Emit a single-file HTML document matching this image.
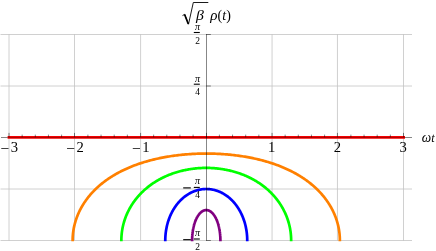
<!DOCTYPE html>
<html><head><meta charset="utf-8">
<style>
html,body{margin:0;padding:0;background:#fff;}
body{width:436px;height:251px;overflow:hidden;}
svg{display:block;will-change:transform;}
text{font-family:"Liberation Serif",serif;font-size:14.6px;fill:#000;}
.sm{font-size:9.5px;}
.it{font-style:italic;}
.grid line{stroke:#c4c4c4;stroke-width:0.8;}
.axes line{stroke:#000;stroke-opacity:0.68;stroke-width:0.7;}
.fb{stroke:#000;stroke-width:1.1;}
.mn{stroke:#000;stroke-width:1.15;}
</style></head><body>
<svg width="436" height="251" viewBox="0 0 436 251">
<rect width="436" height="251" fill="#fff"/>
<defs><clipPath id="cp"><rect x="0" y="30" width="413" height="211.3"/></clipPath></defs>
<g class="grid">
<line x1="9.00" y1="34" x2="9.00" y2="241" />
<line x1="74.50" y1="34" x2="74.50" y2="241" />
<line x1="140.60" y1="34" x2="140.60" y2="241" />
<line x1="272.05" y1="34" x2="272.05" y2="241" />
<line x1="337.45" y1="34" x2="337.45" y2="241" />
<line x1="403.50" y1="34" x2="403.50" y2="241" />
<line x1="0.5" y1="34.50" x2="412" y2="34.50" />
<line x1="0.5" y1="86.00" x2="412" y2="86.00" />
<line x1="0.5" y1="189.00" x2="412" y2="189.00" />
<line x1="0.5" y1="240.50" x2="412" y2="240.50" />
</g>
<g clip-path="url(#cp)">
<line x1="7.6" y1="137.35" x2="405" y2="137.35" stroke="#f40000" stroke-width="2.7"/>
<path d="M72.63 244.50 L72.63 240.50 L72.64 239.52 L72.66 238.54 L72.70 237.56 L72.75 236.59 L72.82 235.61 L72.90 234.63 L72.99 233.66 L73.10 232.68 L73.23 231.71 L73.37 230.74 L73.52 229.76 L73.69 228.80 L73.87 227.83 L74.07 226.86 L74.28 225.90 L74.51 224.94 L74.75 223.98 L75.00 223.02 L75.27 222.07 L75.55 221.12 L75.85 220.17 L76.17 219.22 L76.49 218.28 L76.83 217.34 L77.19 216.41 L77.56 215.47 L77.94 214.54 L78.34 213.62 L78.75 212.70 L79.17 211.78 L79.61 210.87 L80.07 209.96 L80.53 209.06 L81.01 208.16 L81.51 207.27 L82.02 206.38 L82.54 205.49 L83.08 204.61 L83.62 203.74 L84.19 202.87 L84.76 202.00 L85.35 201.15 L85.95 200.29 L86.57 199.45 L87.20 198.61 L87.84 197.77 L88.49 196.94 L89.16 196.12 L89.84 195.30 L90.54 194.49 L91.24 193.69 L91.96 192.89 L92.69 192.10 L93.43 191.32 L94.19 190.54 L94.96 189.77 L95.74 189.01 L96.53 188.25 L97.34 187.50 L98.15 186.76 L98.98 186.03 L99.82 185.30 L100.67 184.58 L101.54 183.87 L102.41 183.16 L103.30 182.47 L104.20 181.78 L105.10 181.10 L106.02 180.42 L106.95 179.76 L107.90 179.10 L108.85 178.45 L109.81 177.81 L110.79 177.17 L111.77 176.55 L112.76 175.93 L113.77 175.32 L114.78 174.72 L115.81 174.13 L116.84 173.54 L117.89 172.97 L118.94 172.40 L120.01 171.84 L121.08 171.29 L122.16 170.75 L123.26 170.22 L124.36 169.69 L125.47 169.17 L126.59 168.67 L127.71 168.17 L128.85 167.67 L129.99 167.19 L131.15 166.72 L132.31 166.25 L133.48 165.80 L134.66 165.35 L135.84 164.91 L137.03 164.48 L138.23 164.05 L139.44 163.64 L140.66 163.23 L141.88 162.84 L143.11 162.45 L144.35 162.07 L145.59 161.70 L146.84 161.34 L148.10 160.98 L149.36 160.64 L150.63 160.30 L151.90 159.97 L153.19 159.65 L154.47 159.34 L155.76 159.04 L157.06 158.74 L158.37 158.45 L159.68 158.18 L160.99 157.91 L162.31 157.64 L163.63 157.39 L164.96 157.15 L166.29 156.91 L167.63 156.68 L168.97 156.46 L170.32 156.25 L171.67 156.04 L173.02 155.85 L174.38 155.66 L175.74 155.48 L177.10 155.31 L178.47 155.15 L179.84 154.99 L181.21 154.85 L182.59 154.71 L183.97 154.58 L185.35 154.45 L186.73 154.34 L188.12 154.23 L189.50 154.13 L190.89 154.04 L192.28 153.96 L193.68 153.88 L195.07 153.82 L196.46 153.76 L197.86 153.71 L199.26 153.66 L200.65 153.63 L202.05 153.60 L203.45 153.58 L204.85 153.57 L206.25 153.56 L207.65 153.57 L209.05 153.58 L210.45 153.60 L211.85 153.63 L213.24 153.66 L214.64 153.71 L216.04 153.76 L217.43 153.82 L218.82 153.88 L220.22 153.96 L221.61 154.04 L223.00 154.13 L224.38 154.23 L225.77 154.34 L227.15 154.45 L228.53 154.58 L229.91 154.71 L231.29 154.85 L232.66 154.99 L234.03 155.15 L235.40 155.31 L236.76 155.48 L238.12 155.66 L239.48 155.85 L240.83 156.04 L242.18 156.25 L243.53 156.46 L244.87 156.68 L246.21 156.91 L247.54 157.15 L248.87 157.39 L250.19 157.64 L251.51 157.91 L252.82 158.18 L254.13 158.45 L255.44 158.74 L256.74 159.04 L258.03 159.34 L259.31 159.65 L260.60 159.97 L261.87 160.30 L263.14 160.64 L264.40 160.98 L265.66 161.34 L266.91 161.70 L268.15 162.07 L269.39 162.45 L270.62 162.84 L271.84 163.23 L273.06 163.64 L274.27 164.05 L275.47 164.48 L276.66 164.91 L277.84 165.35 L279.02 165.80 L280.19 166.25 L281.35 166.72 L282.51 167.19 L283.65 167.67 L284.79 168.17 L285.91 168.67 L287.03 169.17 L288.14 169.69 L289.24 170.22 L290.34 170.75 L291.42 171.29 L292.49 171.84 L293.56 172.40 L294.61 172.97 L295.66 173.54 L296.69 174.13 L297.72 174.72 L298.73 175.32 L299.74 175.93 L300.73 176.55 L301.71 177.17 L302.69 177.81 L303.65 178.45 L304.60 179.10 L305.55 179.76 L306.48 180.42 L307.40 181.10 L308.30 181.78 L309.20 182.47 L310.09 183.16 L310.96 183.87 L311.83 184.58 L312.68 185.30 L313.52 186.03 L314.35 186.76 L315.16 187.50 L315.97 188.25 L316.76 189.01 L317.54 189.77 L318.31 190.54 L319.07 191.32 L319.81 192.10 L320.54 192.89 L321.26 193.69 L321.96 194.49 L322.66 195.30 L323.34 196.12 L324.01 196.94 L324.66 197.77 L325.30 198.61 L325.93 199.45 L326.55 200.29 L327.15 201.15 L327.74 202.00 L328.31 202.87 L328.88 203.74 L329.42 204.61 L329.96 205.49 L330.48 206.38 L330.99 207.27 L331.49 208.16 L331.97 209.06 L332.43 209.96 L332.89 210.87 L333.33 211.78 L333.75 212.70 L334.16 213.62 L334.56 214.54 L334.94 215.47 L335.31 216.41 L335.67 217.34 L336.01 218.28 L336.33 219.22 L336.65 220.17 L336.95 221.12 L337.23 222.07 L337.50 223.02 L337.75 223.98 L337.99 224.94 L338.22 225.90 L338.43 226.86 L338.63 227.83 L338.81 228.80 L338.98 229.76 L339.13 230.74 L339.27 231.71 L339.40 232.68 L339.51 233.66 L339.60 234.63 L339.68 235.61 L339.75 236.59 L339.80 237.56 L339.84 238.54 L339.86 239.52 L339.87 240.50 L339.87 244.50" fill="none" stroke="#ff8000" stroke-width="2.7" stroke-linejoin="round"/>
<path d="M121.35 244.50 L121.35 240.50 L121.36 239.72 L121.37 238.94 L121.39 238.16 L121.43 237.38 L121.47 236.60 L121.52 235.82 L121.58 235.04 L121.65 234.27 L121.73 233.49 L121.82 232.71 L121.91 231.94 L122.02 231.16 L122.14 230.39 L122.26 229.62 L122.40 228.85 L122.54 228.08 L122.69 227.31 L122.86 226.55 L123.03 225.79 L123.21 225.02 L123.40 224.26 L123.59 223.51 L123.80 222.75 L124.02 222.00 L124.24 221.25 L124.48 220.50 L124.72 219.75 L124.98 219.01 L125.24 218.26 L125.51 217.53 L125.79 216.79 L126.07 216.06 L126.37 215.33 L126.68 214.60 L126.99 213.88 L127.31 213.16 L127.65 212.44 L127.99 211.73 L128.33 211.02 L128.69 210.31 L129.06 209.61 L129.43 208.91 L129.81 208.21 L130.21 207.52 L130.61 206.84 L131.01 206.15 L131.43 205.47 L131.85 204.80 L132.29 204.13 L132.73 203.46 L133.17 202.80 L133.63 202.15 L134.10 201.49 L134.57 200.85 L135.05 200.20 L135.54 199.57 L136.03 198.93 L136.54 198.31 L137.05 197.68 L137.57 197.06 L138.09 196.45 L138.63 195.84 L139.17 195.24 L139.72 194.65 L140.27 194.05 L140.83 193.47 L141.41 192.89 L141.98 192.31 L142.57 191.74 L143.16 191.18 L143.76 190.62 L144.36 190.07 L144.97 189.53 L145.59 188.99 L146.22 188.45 L146.85 187.92 L147.49 187.40 L148.13 186.89 L148.78 186.38 L149.44 185.87 L150.11 185.38 L150.78 184.89 L151.45 184.40 L152.13 183.92 L152.82 183.45 L153.52 182.99 L154.22 182.53 L154.92 182.08 L155.63 181.63 L156.35 181.19 L157.07 180.76 L157.80 180.34 L158.53 179.92 L159.27 179.51 L160.01 179.10 L160.76 178.70 L161.51 178.31 L162.27 177.93 L163.03 177.55 L163.80 177.18 L164.57 176.82 L165.35 176.46 L166.13 176.11 L166.92 175.77 L167.71 175.43 L168.50 175.10 L169.30 174.78 L170.10 174.47 L170.91 174.16 L171.72 173.86 L172.53 173.57 L173.35 173.28 L174.17 173.01 L175.00 172.74 L175.83 172.47 L176.66 172.22 L177.49 171.97 L178.33 171.72 L179.17 171.49 L180.02 171.26 L180.86 171.04 L181.71 170.83 L182.56 170.63 L183.42 170.43 L184.28 170.24 L185.14 170.06 L186.00 169.88 L186.86 169.71 L187.73 169.55 L188.60 169.40 L189.47 169.25 L190.34 169.11 L191.22 168.98 L192.09 168.86 L192.97 168.74 L193.85 168.64 L194.73 168.54 L195.61 168.44 L196.49 168.36 L197.38 168.28 L198.26 168.21 L199.15 168.14 L200.03 168.09 L200.92 168.04 L201.81 168.00 L202.69 167.96 L203.58 167.94 L204.47 167.92 L205.36 167.91 L206.25 167.90 L207.14 167.91 L208.03 167.92 L208.92 167.94 L209.81 167.96 L210.69 168.00 L211.58 168.04 L212.47 168.09 L213.35 168.14 L214.24 168.21 L215.12 168.28 L216.01 168.36 L216.89 168.44 L217.77 168.54 L218.65 168.64 L219.53 168.74 L220.41 168.86 L221.28 168.98 L222.16 169.11 L223.03 169.25 L223.90 169.40 L224.77 169.55 L225.64 169.71 L226.50 169.88 L227.36 170.06 L228.22 170.24 L229.08 170.43 L229.94 170.63 L230.79 170.83 L231.64 171.04 L232.48 171.26 L233.33 171.49 L234.17 171.72 L235.01 171.97 L235.84 172.22 L236.67 172.47 L237.50 172.74 L238.33 173.01 L239.15 173.28 L239.97 173.57 L240.78 173.86 L241.59 174.16 L242.40 174.47 L243.20 174.78 L244.00 175.10 L244.79 175.43 L245.58 175.77 L246.37 176.11 L247.15 176.46 L247.93 176.82 L248.70 177.18 L249.47 177.55 L250.23 177.93 L250.99 178.31 L251.74 178.70 L252.49 179.10 L253.23 179.51 L253.97 179.92 L254.70 180.34 L255.43 180.76 L256.15 181.19 L256.87 181.63 L257.58 182.08 L258.28 182.53 L258.98 182.99 L259.68 183.45 L260.37 183.92 L261.05 184.40 L261.72 184.89 L262.39 185.38 L263.06 185.87 L263.72 186.38 L264.37 186.89 L265.01 187.40 L265.65 187.92 L266.28 188.45 L266.91 188.99 L267.53 189.53 L268.14 190.07 L268.74 190.62 L269.34 191.18 L269.93 191.74 L270.52 192.31 L271.09 192.89 L271.67 193.47 L272.23 194.05 L272.78 194.65 L273.33 195.24 L273.87 195.84 L274.41 196.45 L274.93 197.06 L275.45 197.68 L275.96 198.31 L276.47 198.93 L276.96 199.57 L277.45 200.20 L277.93 200.85 L278.40 201.49 L278.87 202.15 L279.33 202.80 L279.77 203.46 L280.21 204.13 L280.65 204.80 L281.07 205.47 L281.49 206.15 L281.89 206.84 L282.29 207.52 L282.69 208.21 L283.07 208.91 L283.44 209.61 L283.81 210.31 L284.17 211.02 L284.51 211.73 L284.85 212.44 L285.19 213.16 L285.51 213.88 L285.82 214.60 L286.13 215.33 L286.43 216.06 L286.71 216.79 L286.99 217.53 L287.26 218.26 L287.52 219.01 L287.78 219.75 L288.02 220.50 L288.26 221.25 L288.48 222.00 L288.70 222.75 L288.91 223.51 L289.10 224.26 L289.29 225.02 L289.47 225.79 L289.64 226.55 L289.81 227.31 L289.96 228.08 L290.10 228.85 L290.24 229.62 L290.36 230.39 L290.48 231.16 L290.59 231.94 L290.68 232.71 L290.77 233.49 L290.85 234.27 L290.92 235.04 L290.98 235.82 L291.03 236.60 L291.07 237.38 L291.11 238.16 L291.13 238.94 L291.14 239.72 L291.15 240.50 L291.15 244.50" fill="none" stroke="#00ff00" stroke-width="2.7" stroke-linejoin="round"/>
<path d="M165.27 244.50 L165.27 240.50 L165.28 239.96 L165.28 239.42 L165.29 238.87 L165.31 238.33 L165.33 237.79 L165.35 237.25 L165.38 236.71 L165.42 236.17 L165.45 235.63 L165.50 235.09 L165.54 234.55 L165.60 234.01 L165.65 233.48 L165.71 232.94 L165.78 232.40 L165.85 231.87 L165.92 231.33 L166.00 230.80 L166.08 230.27 L166.17 229.74 L166.26 229.21 L166.36 228.68 L166.46 228.16 L166.56 227.63 L166.67 227.11 L166.78 226.58 L166.90 226.06 L167.02 225.54 L167.15 225.03 L167.28 224.51 L167.41 224.00 L167.55 223.49 L167.70 222.97 L167.84 222.47 L167.99 221.96 L168.15 221.46 L168.31 220.95 L168.47 220.45 L168.64 219.96 L168.82 219.46 L168.99 218.97 L169.17 218.48 L169.36 217.99 L169.55 217.51 L169.74 217.02 L169.94 216.54 L170.14 216.06 L170.34 215.59 L170.55 215.12 L170.76 214.65 L170.98 214.18 L171.20 213.72 L171.42 213.26 L171.65 212.80 L171.88 212.35 L172.12 211.90 L172.36 211.45 L172.60 211.00 L172.85 210.56 L173.10 210.12 L173.35 209.69 L173.61 209.26 L173.87 208.83 L174.14 208.41 L174.40 207.99 L174.68 207.57 L174.95 207.16 L175.23 206.75 L175.51 206.34 L175.80 205.94 L176.09 205.54 L176.38 205.15 L176.67 204.76 L176.97 204.37 L177.27 203.99 L177.58 203.61 L177.89 203.23 L178.20 202.86 L178.51 202.50 L178.83 202.14 L179.15 201.78 L179.47 201.43 L179.80 201.08 L180.13 200.73 L180.46 200.39 L180.80 200.06 L181.13 199.73 L181.48 199.40 L181.82 199.08 L182.16 198.76 L182.51 198.45 L182.86 198.14 L183.22 197.83 L183.57 197.53 L183.93 197.24 L184.29 196.95 L184.66 196.67 L185.02 196.39 L185.39 196.11 L185.76 195.84 L186.13 195.57 L186.51 195.31 L186.89 195.06 L187.27 194.81 L187.65 194.56 L188.03 194.32 L188.42 194.09 L188.80 193.86 L189.19 193.63 L189.58 193.41 L189.98 193.20 L190.37 192.99 L190.77 192.78 L191.17 192.58 L191.57 192.39 L191.97 192.20 L192.37 192.01 L192.77 191.84 L193.18 191.66 L193.59 191.50 L194.00 191.33 L194.41 191.18 L194.82 191.02 L195.23 190.88 L195.64 190.74 L196.06 190.60 L196.48 190.47 L196.89 190.35 L197.31 190.23 L197.73 190.11 L198.15 190.01 L198.57 189.90 L198.99 189.81 L199.42 189.71 L199.84 189.63 L200.26 189.55 L200.69 189.47 L201.11 189.40 L201.54 189.34 L201.97 189.28 L202.39 189.23 L202.82 189.18 L203.25 189.14 L203.68 189.10 L204.11 189.07 L204.53 189.04 L204.96 189.03 L205.39 189.01 L205.82 189.00 L206.25 189.00 L206.68 189.00 L207.11 189.01 L207.54 189.03 L207.97 189.04 L208.39 189.07 L208.82 189.10 L209.25 189.14 L209.68 189.18 L210.11 189.23 L210.53 189.28 L210.96 189.34 L211.39 189.40 L211.81 189.47 L212.24 189.55 L212.66 189.63 L213.08 189.71 L213.51 189.81 L213.93 189.90 L214.35 190.01 L214.77 190.11 L215.19 190.23 L215.61 190.35 L216.02 190.47 L216.44 190.60 L216.86 190.74 L217.27 190.88 L217.68 191.02 L218.09 191.18 L218.50 191.33 L218.91 191.50 L219.32 191.66 L219.73 191.84 L220.13 192.01 L220.53 192.20 L220.93 192.39 L221.33 192.58 L221.73 192.78 L222.13 192.99 L222.52 193.20 L222.92 193.41 L223.31 193.63 L223.70 193.86 L224.08 194.09 L224.47 194.32 L224.85 194.56 L225.23 194.81 L225.61 195.06 L225.99 195.31 L226.37 195.57 L226.74 195.84 L227.11 196.11 L227.48 196.39 L227.84 196.67 L228.21 196.95 L228.57 197.24 L228.93 197.53 L229.28 197.83 L229.64 198.14 L229.99 198.45 L230.34 198.76 L230.68 199.08 L231.02 199.40 L231.37 199.73 L231.70 200.06 L232.04 200.39 L232.37 200.73 L232.70 201.08 L233.03 201.43 L233.35 201.78 L233.67 202.14 L233.99 202.50 L234.30 202.86 L234.61 203.23 L234.92 203.61 L235.23 203.99 L235.53 204.37 L235.83 204.76 L236.12 205.15 L236.41 205.54 L236.70 205.94 L236.99 206.34 L237.27 206.75 L237.55 207.16 L237.82 207.57 L238.10 207.99 L238.36 208.41 L238.63 208.83 L238.89 209.26 L239.15 209.69 L239.40 210.12 L239.65 210.56 L239.90 211.00 L240.14 211.45 L240.38 211.90 L240.62 212.35 L240.85 212.80 L241.08 213.26 L241.30 213.72 L241.52 214.18 L241.74 214.65 L241.95 215.12 L242.16 215.59 L242.36 216.06 L242.56 216.54 L242.76 217.02 L242.95 217.51 L243.14 217.99 L243.33 218.48 L243.51 218.97 L243.68 219.46 L243.86 219.96 L244.03 220.45 L244.19 220.95 L244.35 221.46 L244.51 221.96 L244.66 222.47 L244.80 222.97 L244.95 223.49 L245.09 224.00 L245.22 224.51 L245.35 225.03 L245.48 225.54 L245.60 226.06 L245.72 226.58 L245.83 227.11 L245.94 227.63 L246.04 228.16 L246.14 228.68 L246.24 229.21 L246.33 229.74 L246.42 230.27 L246.50 230.80 L246.58 231.33 L246.65 231.87 L246.72 232.40 L246.79 232.94 L246.85 233.48 L246.90 234.01 L246.96 234.55 L247.00 235.09 L247.05 235.63 L247.08 236.17 L247.12 236.71 L247.15 237.25 L247.17 237.79 L247.19 238.33 L247.21 238.87 L247.22 239.42 L247.22 239.96 L247.23 240.50 L247.23 244.50" fill="none" stroke="#0000ff" stroke-width="2.7" stroke-linejoin="round"/>
<path d="M192.10 244.50 L192.10 240.50 L192.10 240.18 L192.10 239.86 L192.11 239.54 L192.11 239.23 L192.12 238.91 L192.13 238.59 L192.14 238.27 L192.15 237.95 L192.16 237.64 L192.18 237.32 L192.19 237.00 L192.21 236.69 L192.23 236.37 L192.25 236.06 L192.27 235.74 L192.30 235.43 L192.32 235.11 L192.35 234.80 L192.38 234.49 L192.41 234.18 L192.44 233.86 L192.47 233.55 L192.51 233.24 L192.54 232.94 L192.58 232.63 L192.62 232.32 L192.66 232.01 L192.70 231.71 L192.75 231.40 L192.79 231.10 L192.84 230.80 L192.89 230.50 L192.94 230.20 L192.99 229.90 L193.04 229.60 L193.09 229.30 L193.15 229.01 L193.21 228.71 L193.26 228.42 L193.32 228.13 L193.38 227.84 L193.45 227.55 L193.51 227.26 L193.58 226.98 L193.64 226.69 L193.71 226.41 L193.78 226.13 L193.85 225.85 L193.92 225.57 L194.00 225.29 L194.07 225.02 L194.15 224.74 L194.22 224.47 L194.30 224.20 L194.38 223.94 L194.46 223.67 L194.55 223.40 L194.63 223.14 L194.72 222.88 L194.80 222.62 L194.89 222.37 L194.98 222.11 L195.07 221.86 L195.16 221.61 L195.25 221.36 L195.35 221.11 L195.44 220.87 L195.54 220.63 L195.64 220.39 L195.73 220.15 L195.83 219.92 L195.94 219.68 L196.04 219.45 L196.14 219.22 L196.24 219.00 L196.35 218.77 L196.46 218.55 L196.56 218.33 L196.67 218.12 L196.78 217.90 L196.89 217.69 L197.00 217.48 L197.12 217.27 L197.23 217.07 L197.35 216.87 L197.46 216.67 L197.58 216.47 L197.70 216.28 L197.81 216.09 L197.93 215.90 L198.05 215.71 L198.17 215.53 L198.30 215.35 L198.42 215.17 L198.54 215.00 L198.67 214.83 L198.79 214.66 L198.92 214.49 L199.05 214.33 L199.18 214.17 L199.30 214.01 L199.43 213.85 L199.56 213.70 L199.69 213.55 L199.83 213.41 L199.96 213.27 L200.09 213.13 L200.23 212.99 L200.36 212.85 L200.49 212.72 L200.63 212.60 L200.77 212.47 L200.90 212.35 L201.04 212.23 L201.18 212.12 L201.32 212.00 L201.46 211.89 L201.60 211.79 L201.74 211.68 L201.88 211.58 L202.02 211.49 L202.16 211.39 L202.30 211.30 L202.44 211.22 L202.59 211.13 L202.73 211.05 L202.87 210.97 L203.02 210.90 L203.16 210.83 L203.31 210.76 L203.45 210.70 L203.60 210.64 L203.74 210.58 L203.89 210.52 L204.04 210.47 L204.18 210.42 L204.33 210.38 L204.48 210.34 L204.62 210.30 L204.77 210.26 L204.92 210.23 L205.07 210.20 L205.21 210.18 L205.36 210.16 L205.51 210.14 L205.66 210.12 L205.81 210.11 L205.95 210.10 L206.10 210.10 L206.25 210.10 L206.40 210.10 L206.55 210.10 L206.69 210.11 L206.84 210.12 L206.99 210.14 L207.14 210.16 L207.29 210.18 L207.43 210.20 L207.58 210.23 L207.73 210.26 L207.88 210.30 L208.02 210.34 L208.17 210.38 L208.32 210.42 L208.46 210.47 L208.61 210.52 L208.76 210.58 L208.90 210.64 L209.05 210.70 L209.19 210.76 L209.34 210.83 L209.48 210.90 L209.63 210.97 L209.77 211.05 L209.91 211.13 L210.06 211.22 L210.20 211.30 L210.34 211.39 L210.48 211.49 L210.62 211.58 L210.76 211.68 L210.90 211.79 L211.04 211.89 L211.18 212.00 L211.32 212.12 L211.46 212.23 L211.60 212.35 L211.73 212.47 L211.87 212.60 L212.01 212.72 L212.14 212.85 L212.27 212.99 L212.41 213.13 L212.54 213.27 L212.67 213.41 L212.81 213.55 L212.94 213.70 L213.07 213.85 L213.20 214.01 L213.32 214.17 L213.45 214.33 L213.58 214.49 L213.71 214.66 L213.83 214.83 L213.96 215.00 L214.08 215.17 L214.20 215.35 L214.33 215.53 L214.45 215.71 L214.57 215.90 L214.69 216.09 L214.80 216.28 L214.92 216.47 L215.04 216.67 L215.15 216.87 L215.27 217.07 L215.38 217.27 L215.50 217.48 L215.61 217.69 L215.72 217.90 L215.83 218.12 L215.94 218.33 L216.04 218.55 L216.15 218.77 L216.26 219.00 L216.36 219.22 L216.46 219.45 L216.56 219.68 L216.67 219.92 L216.77 220.15 L216.86 220.39 L216.96 220.63 L217.06 220.87 L217.15 221.11 L217.25 221.36 L217.34 221.61 L217.43 221.86 L217.52 222.11 L217.61 222.37 L217.70 222.62 L217.78 222.88 L217.87 223.14 L217.95 223.40 L218.04 223.67 L218.12 223.94 L218.20 224.20 L218.28 224.47 L218.35 224.74 L218.43 225.02 L218.50 225.29 L218.58 225.57 L218.65 225.85 L218.72 226.13 L218.79 226.41 L218.86 226.69 L218.92 226.98 L218.99 227.26 L219.05 227.55 L219.12 227.84 L219.18 228.13 L219.24 228.42 L219.29 228.71 L219.35 229.01 L219.41 229.30 L219.46 229.60 L219.51 229.90 L219.56 230.20 L219.61 230.50 L219.66 230.80 L219.71 231.10 L219.75 231.40 L219.80 231.71 L219.84 232.01 L219.88 232.32 L219.92 232.63 L219.96 232.94 L219.99 233.24 L220.03 233.55 L220.06 233.86 L220.09 234.18 L220.12 234.49 L220.15 234.80 L220.18 235.11 L220.20 235.43 L220.23 235.74 L220.25 236.06 L220.27 236.37 L220.29 236.69 L220.31 237.00 L220.32 237.32 L220.34 237.64 L220.35 237.95 L220.36 238.27 L220.37 238.59 L220.38 238.91 L220.39 239.23 L220.39 239.54 L220.40 239.86 L220.40 240.18 L220.40 240.50 L220.40 244.50" fill="none" stroke="#800080" stroke-width="2.7" stroke-linejoin="round"/>
</g>
<g class="axes">
<line x1="1" y1="137.5" x2="7.6" y2="137.5"/>
<line x1="405" y1="137.5" x2="412" y2="137.5"/>
<line x1="7.6" y1="137.5" x2="405" y2="137.5" style="stroke:#500000;stroke-opacity:0.5;stroke-width:0.8"/>
<line x1="206.5" y1="34" x2="206.5" y2="240.8"/>
<line x1="9.00" y1="137.20" x2="9.00" y2="132.90"/>
<line x1="22.15" y1="137.20" x2="22.15" y2="134.60"/>
<line x1="35.30" y1="137.20" x2="35.30" y2="134.60"/>
<line x1="48.45" y1="137.20" x2="48.45" y2="134.60"/>
<line x1="61.60" y1="137.20" x2="61.60" y2="134.60"/>
<line x1="74.50" y1="137.20" x2="74.50" y2="132.90"/>
<line x1="87.90" y1="137.20" x2="87.90" y2="134.60"/>
<line x1="101.05" y1="137.20" x2="101.05" y2="134.60"/>
<line x1="114.20" y1="137.20" x2="114.20" y2="134.60"/>
<line x1="127.35" y1="137.20" x2="127.35" y2="134.60"/>
<line x1="140.60" y1="137.20" x2="140.60" y2="132.90"/>
<line x1="153.65" y1="137.20" x2="153.65" y2="134.60"/>
<line x1="166.80" y1="137.20" x2="166.80" y2="134.60"/>
<line x1="179.95" y1="137.20" x2="179.95" y2="134.60"/>
<line x1="193.10" y1="137.20" x2="193.10" y2="134.60"/>
<line x1="206.50" y1="137.20" x2="206.50" y2="132.90"/>
<line x1="219.40" y1="137.20" x2="219.40" y2="134.60"/>
<line x1="232.55" y1="137.20" x2="232.55" y2="134.60"/>
<line x1="245.70" y1="137.20" x2="245.70" y2="134.60"/>
<line x1="258.85" y1="137.20" x2="258.85" y2="134.60"/>
<line x1="272.05" y1="137.20" x2="272.05" y2="132.90"/>
<line x1="285.15" y1="137.20" x2="285.15" y2="134.60"/>
<line x1="298.30" y1="137.20" x2="298.30" y2="134.60"/>
<line x1="311.45" y1="137.20" x2="311.45" y2="134.60"/>
<line x1="324.60" y1="137.20" x2="324.60" y2="134.60"/>
<line x1="337.45" y1="137.20" x2="337.45" y2="132.90"/>
<line x1="350.90" y1="137.20" x2="350.90" y2="134.60"/>
<line x1="364.05" y1="137.20" x2="364.05" y2="134.60"/>
<line x1="377.20" y1="137.20" x2="377.20" y2="134.60"/>
<line x1="390.35" y1="137.20" x2="390.35" y2="134.60"/>
<line x1="403.50" y1="137.20" x2="403.50" y2="132.90"/>
<line x1="206.25" y1="34.50" x2="210.85" y2="34.50"/>
<line x1="206.25" y1="86.00" x2="210.85" y2="86.00"/>
<line x1="206.25" y1="189.00" x2="210.85" y2="189.00"/>
<line x1="206.25" y1="240.50" x2="210.85" y2="240.50"/>
</g>
<g>
<text x="0.55" y="154.3" style="font-size:15.6px">−</text>
<text x="10.70" y="152.2">3</text>
<text x="66.30" y="154.3" style="font-size:15.6px">−</text>
<text x="76.45" y="152.2">2</text>
<text x="132.05" y="154.3" style="font-size:15.6px">−</text>
<text x="142.20" y="152.2">1</text>
<text x="271.60" y="152.2" text-anchor="middle">1</text>
<text x="337.35" y="152.2" text-anchor="middle">2</text>
<text x="403.10" y="152.2" text-anchor="middle">3</text>
<text class="sm it" x="197.55" y="29.60" text-anchor="middle" style="font-size:10px">π</text>
<line class="fb" x1="193.8" y1="32.50" x2="199.8" y2="32.50"/>
<text class="sm" x="197.55" y="44.00" text-anchor="middle">2</text>
<text class="sm it" x="197.55" y="82.30" text-anchor="middle" style="font-size:10px">π</text>
<line class="fb" x1="193.8" y1="84.20" x2="199.8" y2="84.20"/>
<text class="sm" x="197.55" y="94.80" text-anchor="middle">4</text>
<text class="sm it" x="197.55" y="184.30" text-anchor="middle" style="font-size:10px">π</text>
<line class="fb" x1="193.8" y1="187.40" x2="199.8" y2="187.40"/>
<text class="sm" x="197.55" y="198.10" text-anchor="middle">4</text>
<line class="mn" x1="183.2" y1="187.90" x2="190.8" y2="187.90"/>
<text class="sm it" x="197.55" y="235.90" text-anchor="middle" style="font-size:10px">π</text>
<line class="fb" x1="193.8" y1="239.00" x2="199.8" y2="239.00"/>
<text class="sm" x="197.55" y="249.80" text-anchor="middle">2</text>
<line class="mn" x1="183.2" y1="239.70" x2="190.8" y2="239.70"/>
</g>
<text transform="translate(421.8 141.5) scale(0.93 1)" x="0" y="0" class="it" style="font-size:14.3px">ω<tspan style="font-size:13.2px">t</tspan></text>
<g>
<path d="M182.5 15.6 L184.7 14.3 L188.5 24.2 L193.3 2.5 L208.3 2.5" fill="none" stroke="#000" stroke-width="0.9" stroke-linejoin="miter"/>
<path d="M184.6 14.5 L188.3 24.0" fill="none" stroke="#000" stroke-width="1.7"/>
<text transform="translate(196.1 19.8) scale(1.16 1)" x="0" y="0" class="it" style="font-size:13.6px">β</text>
<text x="210.2" y="20.1" style="font-size:14px;letter-spacing:0.1px"><tspan class="it" style="font-size:15px">ρ</tspan>(<tspan class="it">t</tspan>)</text>
</g>
</svg>
</body></html>
